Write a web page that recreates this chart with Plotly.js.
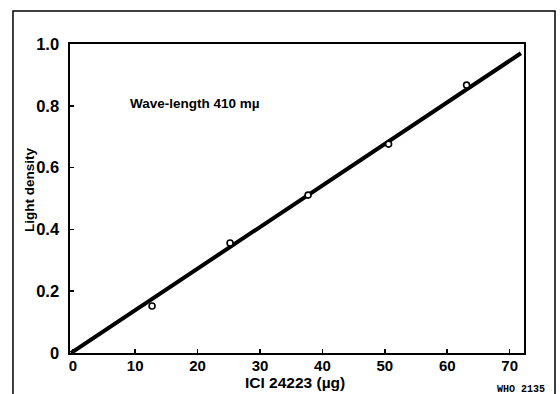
<!DOCTYPE html>
<html>
<head>
<meta charset="utf-8">
<script src="https://cdn.plot.ly/plotly-3.0.1.min.js"></script>
<style>html,body{margin:0;padding:0;background:#fff;}#chart{width:560px;height:394px;}</style>
</head>
<body>
<div id="chart"></div>
<script>
// Data
var pointX = [12.7, 25.2, 37.7, 50.6, 63.1];
var pointY = [0.152, 0.356, 0.511, 0.676, 0.867];
var lineX = [-0.3, 71.8];
var lineY = [0, 0.970];
var xTicks = [0, 10, 20, 30, 40, 50, 60, 70];
var yTicks = [0, 0.2, 0.4, 0.6, 0.8, 1.0];
var yTickText = ["0", "0.2", "0.4", "0.6", "0.8", "1.0"];
var xTitle = "ICI 24223 (µg)";
var yTitle = "Light density";
var noteText = "Wave-length 410 mµ";
var codeText = "WHO 2135";

var sans = "Liberation Sans, Arial, sans-serif";

var traces = [
  {x: lineX, y: lineY, mode: "lines", line: {color: "#000", width: 4}, hoverinfo: "skip", showlegend: false, cliponaxis: false},
  {x: pointX, y: pointY, mode: "markers", marker: {symbol: "circle", size: 6, color: "#fff", line: {color: "#000", width: 1.6}}, showlegend: false, cliponaxis: false}
];

var layout = {
  width: 560, height: 394,
  margin: {l: 70, r: 36, t: 44, b: 41},
  paper_bgcolor: "#fff", plot_bgcolor: "#fff",
  showlegend: false,
  xaxis: {
    range: [-0.45, 72.3], tickvals: xTicks, ticktext: xTicks.map(String),
    ticks: "inside", ticklen: 4, tickwidth: 1.5, tickcolor: "#000",
    showline: true, linecolor: "#000", linewidth: 1.6, mirror: true,
    showgrid: false, zeroline: false, tickfont: {family: sans, size: 15, color: "#000", weight: "bold"},
    ticklabelstandoff: -2, automargin: false
  },
  yaxis: {
    range: [0, 1.0], tickvals: yTicks, ticktext: yTickText,
    ticks: "inside", ticklen: 4, tickwidth: 1.5, tickcolor: "#000",
    showline: true, linecolor: "#000", linewidth: 1.6, mirror: true,
    showgrid: false, zeroline: false, tickfont: {family: sans, size: 16.5, color: "#000", weight: "bold"},
    ticklabelstandoff: 6, automargin: false
  },
  annotations: [
    {x: 0.4945, y: -0.0939, xref: "paper", yref: "paper", xanchor: "center", yanchor: "middle", showarrow: false,
     text: xTitle, font: {family: sans, size: 15.5, color: "#000", weight: "bold"}},
    {x: -0.0903, y: 0.5275, xref: "paper", yref: "paper", xanchor: "center", yanchor: "middle", showarrow: false,
     textangle: -90, text: yTitle, font: {family: sans, size: 13.5, color: "#000", weight: "bold"}},
    {x: 8.85, y: 0.809, xref: "x", yref: "y", xanchor: "left", yanchor: "middle", showarrow: false,
     text: noteText, font: {family: sans, size: 13.5, color: "#000", weight: "bold"}},
    {x: 1.0507, y: -0.118, xref: "paper", yref: "paper", xanchor: "right", yanchor: "middle", showarrow: false,
     text: codeText, font: {family: "Liberation Mono, DejaVu Sans Mono, monospace", size: 10, color: "#000", weight: "bold"}}
  ],
  shapes: [
    {type: "path", xref: "paper", yref: "paper",
     path: "M -0.1256 -0.14 L -0.1256 1.1068 L 1.0683 1.1068 L 1.0683 -0.14",
     line: {color: "#000", width: 1.5}}
  ]
};

Plotly.newPlot("chart", traces, layout, {staticPlot: true, displayModeBar: false});
</script>
</body>
</html>
